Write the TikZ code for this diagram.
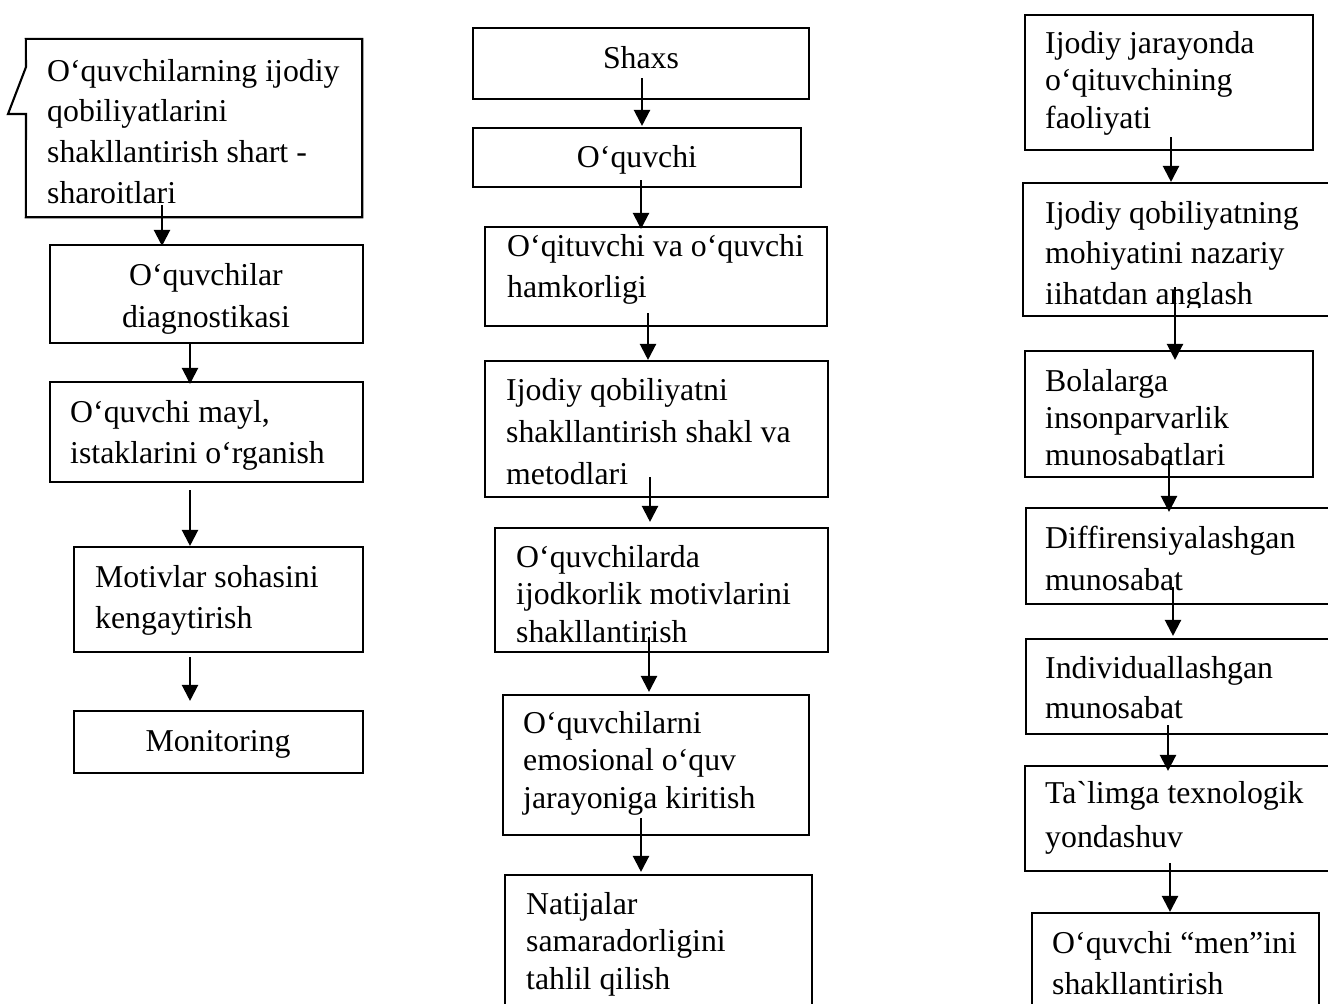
\documentclass[tikz,border=0pt]{standalone}
\usepackage{fontspec}
\newfontfamily\tnr{Liberation Serif}
\usetikzlibrary{arrows.meta,fit}
\tikzset{
  boxd/.style={draw, line width=2.1pt, inner sep=0pt},
  boxnd/.style={inner sep=0pt},
  arr/.style={line width=2.2pt, -{Triangle[length=16pt,width=16pt]}},
  txt/.style={inner sep=0pt, font=\tnr\fontsize{31.8}{40}\selectfont},
}
\newcommand\rowL[1]{\hbox{#1}}
\newcommand\tl[2]{\vtop{\baselineskip=#1pt\relax #2}}
\newcommand\ctl[2]{\vtop{\baselineskip=#1pt\relax\halign{\hfil##\hfil\cr #2}}}
\begin{document}
\begin{tikzpicture}[x=1pt,y=-1pt]
\useasboundingbox (0,0) rectangle (1328,1004);
\clip (0,0) rectangle (1328,1004);
\fill[white] (0,0) rectangle (1328,1004);

% ---------- left column ----------
\node[boxnd, fit={(26,39) (362,217)}] (A) {};
\draw[line width=2.1pt, line join=miter] (A.north west) -- (A.north east) -- (A.south east) -- (A.south west) -- (26,114) -- (8,114) -- (26,67) -- cycle;
\node[txt, anchor=base west] (tA) at (47,81) {\tl{40.7}{\rowL{O‘quvchilarning ijodiy}\rowL{qobiliyatlarini}\rowL{shakllantirish shart -}\rowL{sharoitlari}}};

\node[boxd, fit={(50,245) (363,343)}] (B) {};
\node[txt, anchor=base] (tB) at (206,285) {\ctl{42}{O‘quvchilar\cr diagnostikasi\cr}};

\node[boxd, fit={(50,382) (363,482)}] (C) {};
\node[txt, anchor=base west] (tC) at (70,422) {\tl{41}{\rowL{O‘quvchi mayl,}\rowL{istaklarini o‘rganish}}};

\node[boxd, fit={(74,547) (363,652)}] (D) {};
\node[txt, anchor=base west] (tD) at (95,587) {\tl{41}{\rowL{Motivlar sohasini}\rowL{kengaytirish}}};

\node[boxd, fit={(74,711) (363,773)}] (E) {};
\node[txt, anchor=base] (tE) at (218,751) {Monitoring};

\coordinate (sAB) at (162,205);
\coordinate (sBC) at (190,343);
\coordinate (sCD) at (190,490);
\coordinate (sDE) at (190,657);
\draw[arr] (sAB) -- ([yshift=-2pt]sAB |- B.north);
\draw[arr] (sBC) -- ([yshift=-3pt]sBC |- C.north);
\draw[arr] (sCD) -- (sCD |- D.north);
\draw[arr] (sDE) -- ([yshift=9pt]sDE |- E.north);

% ---------- middle column ----------
\node[boxd, fit={(473,28) (809,99)}] (M1) {};
\node[txt, anchor=base] (tM1) at (641,68) {Shaxs};

\node[boxd, fit={(473,128) (801,187)}] (M2) {};
\node[txt, anchor=base] (tM2) at (637,167) {O‘quvchi};

\node[boxd, fit={(485,227) (827,326)}] (M3) {};
\node[txt, anchor=base west] (tM3) at (507,256) {\tl{41.5}{\rowL{O‘qituvchi va o‘quvchi}\rowL{hamkorligi}}};

\node[boxd, fit={(485,361) (828,497)}] (M4) {};
\node[txt, anchor=base west] (tM4) at (506,400) {\tl{42}{\rowL{Ijodiy qobiliyatni}\rowL{shakllantirish shakl va}\rowL{metodlari}}};

\node[boxd, fit={(495,528) (828,652)}] (M5) {};
\node[txt, anchor=base west] (tM5) at (516,567) {\tl{37.5}{\rowL{O‘quvchilarda}\rowL{ijodkorlik motivlarini}\rowL{shakllantirish}}};

\node[boxd, fit={(503,695) (809,835)}] (M6) {};
\node[txt, anchor=base west] (tM6) at (523,733) {\tl{37.5}{\rowL{O‘quvchilarni}\rowL{emosional o‘quv}\rowL{jarayoniga kiritish}}};

\node[boxd, fit={(505,875) (812,1015)}] (M7) {};
\node[txt, anchor=base west] (tM7) at (526,914) {\tl{37.5}{\rowL{Natijalar}\rowL{samaradorligini}\rowL{tahlil qilish}}};

\coordinate (s12) at (642,78);
\coordinate (s23) at (641,180);
\coordinate (s34) at (648,313);
\coordinate (s45) at (650,477);
\coordinate (s56) at (649,637);
\coordinate (s67) at (641,818);
\draw[arr] (s12) -- ([yshift=1pt]s12 |- M2.north);
\draw[arr] (s23) -- ([yshift=-3pt]s23 |- M3.north);
\draw[arr] (s34) -- (s34 |- M4.north);
\draw[arr] (s45) -- ([yshift=5pt]s45 |- M5.north);
\draw[arr] (s56) -- ([yshift=2pt]s56 |- M6.north);
\draw[arr] (s67) -- ([yshift=2pt]s67 |- M7.north);

% ---------- right column ----------
\node[boxd, fit={(1025,15) (1313,150)}] (R1) {};
\node[txt, anchor=base west] (tR1) at (1045,53) {\tl{37.5}{\rowL{Ijodiy jarayonda}\rowL{o‘qituvchining}\rowL{faoliyati}}};

\node[boxd, fit={(1023,183) (1340,316)}] (R2) {};
\begin{scope}
  \clip (1023,183) rectangle (1340,307);
  \node[txt, anchor=base west] (tR2) at (1045,223) {\tl{40.5}{\rowL{Ijodiy qobiliyatning}\rowL{mohiyatini nazariy}\rowL{iihatdan anglash}}};
\end{scope}

\node[boxd, fit={(1025,351) (1313,477)}] (R3) {};
\node[txt, anchor=base west] (tR3) at (1045,391) {\tl{37}{\rowL{Bolalarga}\rowL{insonparvarlik}\rowL{munosabatlari}}};

\node[boxd, fit={(1026,508) (1340,604)}] (R4) {};
\node[txt, anchor=base west] (tR4) at (1045,548) {\tl{42}{\rowL{Diffirensiyalashgan}\rowL{munosabat}}};

\node[boxd, fit={(1026,639) (1340,734)}] (R5) {};
\node[txt, anchor=base west] (tR5) at (1045,678) {\tl{40}{\rowL{Individuallashgan}\rowL{munosabat}}};

\node[boxd, fit={(1025,766) (1340,871)}] (R6) {};
\node[txt, anchor=base west] (tR6) at (1045,803) {\tl{44}{\rowL{Ta`limga texnologik}\rowL{yondashuv}}};

\node[boxd, fit={(1032,913) (1319,1015)}] (R7) {};
\node[txt, anchor=base west] (tR7) at (1052,953) {\tl{41}{\rowL{O‘quvchi “men”ini}\rowL{shakllantirish}}};

\coordinate (r12) at (1171,137);
\coordinate (r23) at (1175,287);
\coordinate (r34) at (1169,460);
\coordinate (r45) at (1173,587);
\coordinate (r56) at (1168,725);
\coordinate (r67) at (1170,863);
\draw[arr] (r12) -- (r12 |- R2.north);
\draw[arr] (r23) -- ([yshift=-10pt]r23 |- R3.north);
\draw[arr] (r34) -- ([yshift=-5pt]r34 |- R4.north);
\draw[arr] (r45) -- ([yshift=2pt]r45 |- R5.north);
\draw[arr] (r56) -- ([yshift=-6pt]r56 |- R6.north);
\draw[arr] (r67) -- (r67 |- R7.north);
\end{tikzpicture}
\end{document}
